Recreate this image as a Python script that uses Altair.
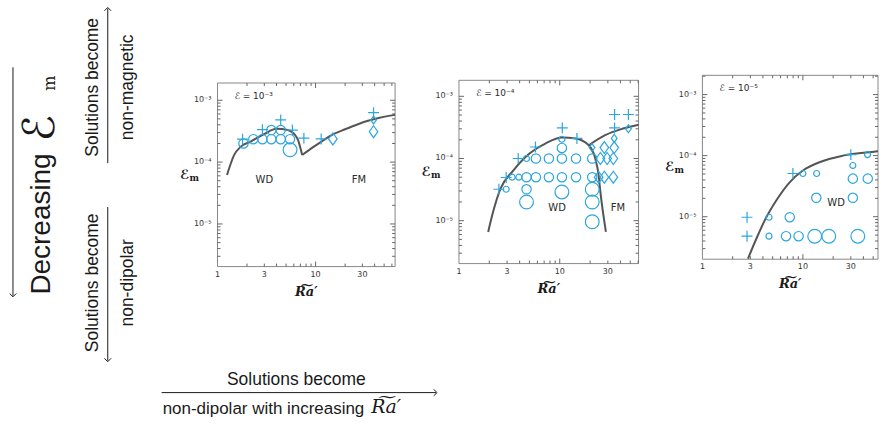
import altair as alt
import pandas as pd

# ---------------- styling ----------------
BLUE = "#2ba6de"
CURVE = "#555555"
FRAME = "#888888"
TICK = "#666666"
INK = "#1a1a1a"
AXIS_INK = "#333333"
SANS = "Liberation Sans"
SMALL = "DejaVu Sans"
SERIF = "DejaVu Serif"

KINDS = ["cS", "cM", "cL", "plus", "dS", "dM"]
PLUS_PATH = "M-1,0L1,0M0,-1L0,1"
DIAM_PATH = "M0,-1L0.72,0L0,1L-0.72,0Z"
SHAPES = ["circle", "circle", "circle", PLUS_PATH, DIAM_PATH, DIAM_PATH]
SIZES = [36, 88, 190, 120, 64, 144]

X_TICK_LABELS = [1, 3, 10, 30]
X_TICK_TEXT = ["1", "3", "10", "30"]
Y_TICK_LABELS = [1e-3, 1e-4, 1e-5]
Y_TICK_TEXT = ["10⁻³", "10⁻⁴", "10⁻⁵"]

# ---------------- panel 1 : E = 1e-3 ----------------
p1_x = [1.84, 2.32, 2.87, 3.54, 4.41, 5.49, 3.54, 4.41, 5.49,
        1.80, 2.87, 4.41, 5.8, 7.6, 11.4, 39,
        15, 39, 39]
p1_y = [2.0e-4, 2.35e-4, 2.35e-4, 2.35e-4, 2.35e-4, 2.35e-4, 3.3e-4, 3.3e-4, 1.58e-4,
        2.35e-4, 3.35e-4, 4.8e-4, 3.3e-4, 2.44e-4, 2.37e-4, 6.3e-4,
        2.37e-4, 4.8e-4, 3.1e-4]
p1_kind = ["cM"] * 8 + ["cL"] + ["plus"] * 7 + ["dM", "dS", "dM"]
p1_curve_x = [1.25, 1.48, 1.73, 2.18, 2.98, 4.0, 5.2, 6.5, 7.3,
              7.3, 9.6, 11.5, 15, 20, 27, 35, 45, 64.7]
p1_curve_y = [6.2e-5, 1.31e-4, 1.78e-4, 2.15e-4, 2.83e-4, 3.45e-4, 3.3e-4, 2.44e-4, 1.3e-4,
              1.3e-4, 1.78e-4, 2.15e-4, 2.8e-4, 3.4e-4, 4.1e-4, 4.7e-4, 5.2e-4, 5.8e-4]
p1_curve_branch = ["WD"] * 9 + ["FM"] * 9
p1_label_x = [3.0, 27.6]
p1_label_y = [5.2e-5, 5.2e-5]
p1_label_t = ["WD", "FM"]
p1_eps = "ℰ = 10⁻³"

# ---------------- panel 2 : E = 1e-4 ----------------
p2_x = [4.68, 5.8, 7.8, 10.5, 14.5, 21,
        3.37, 3.93, 4.68, 5.8, 7.8, 10.5, 14.5, 21,
        2.94, 4.68, 4.68, 10.5, 21, 21, 21, 10.5, 10.5,
        2.49, 2.94, 3.87, 5.74, 10.6, 14.8, 35, 48, 35,
        20.9, 27.7, 34.7, 34.7, 25.3, 29.5, 34, 24.3, 27.7, 34, 48]
p2_y = [1e-4, 1e-4, 1e-4, 1e-4, 1e-4, 1e-4,
        5e-5, 5e-5, 5e-5, 5e-5, 5e-5, 5e-5, 5e-5, 5e-5,
        3.2e-5, 3.2e-5, 2.0e-5, 2.9e-5, 3.2e-5, 2.0e-5, 9.6e-6, 1.48e-4, 2.04e-4,
        3.2e-5, 4.95e-5, 1e-4, 1.53e-4, 3.1e-4, 2.1e-4, 5.1e-4, 5.1e-4, 3.1e-4,
        1.5e-4, 1.5e-4, 1.5e-4, 2.1e-4, 1e-4, 1e-4, 1e-4, 5e-5, 5e-5, 5e-5, 3.0e-4]
p2_kind = (["cS"] + ["cM"] * 5
           + ["cS", "cS"] + ["cM"] * 6
           + ["cS", "cM", "cL", "cL", "cL", "cL", "cL", "cM", "cS"]
           + ["plus"] * 9
           + ["dS", "dM", "dM", "dS", "dM", "dM", "dM", "dM", "dM", "dM", "dS"])
p2_curve_x = [1.95, 2.14, 2.59, 3.37, 4.57, 7.2, 10.6, 14.3, 19.4, 22.5, 24.3, 25.3, 28.7,
              19.4, 28.2, 41.6, 60.5]
p2_curve_y = [6.6e-6, 1.23e-5, 3.3e-5, 6.1e-5, 1.06e-4, 1.74e-4, 2.17e-4, 2.1e-4, 1.63e-4, 1e-4, 5.4e-5, 2.9e-5, 6.6e-6,
              1.63e-4, 2.37e-4, 3.0e-4, 3.5e-4]
p2_curve_branch = ["WD"] * 13 + ["FM"] * 4
p2_label_x = [9.4, 37.8]
p2_label_y = [1.6e-5, 1.6e-5]
p2_label_t = ["WD", "FM"]
p2_eps = "ℰ = 10⁻⁴"

# ---------------- panel 3 : E = 1e-5 ----------------
p3_x = [4.6, 7.4, 4.6, 6.8, 9.06, 13.1, 18.1, 35.2, 13.6, 31.4, 31.4, 44.2, 31.4, 44, 10.0, 13.7,
        2.78, 2.78, 7.95, 30]
p3_y = [9.8e-6, 9.8e-6, 4.8e-6, 4.8e-6, 4.8e-6, 4.8e-6, 4.8e-6, 4.8e-6, 2.04e-5, 2.04e-5, 4.2e-5, 4.2e-5,
        6.9e-5, 1.04e-4, 5.1e-5, 5.1e-5,
        9.8e-6, 4.8e-6, 5.1e-5, 1.04e-4]
p3_kind = ["cS", "cM", "cS", "cM", "cM", "cL", "cL", "cL", "cM", "cM", "cM", "cM", "cS", "cS", "cS", "cS",
           "plus", "plus", "plus", "plus"]
p3_curve_x = [2.84, 3.44, 4.17, 5.43, 7.38, 10.0, 14.6, 25, 53.5, 55.9]
p3_curve_y = [2.05e-6, 4.35e-6, 8.7e-6, 1.84e-5, 3.66e-5, 5.7e-5, 7.8e-5, 1e-4, 1.17e-4, 1.18e-4]
p3_curve_branch = ["WD"] * 10
p3_label_x = [21.4]
p3_label_y = [1.66e-5]
p3_label_t = ["WD"]
p3_eps = "ℰ = 10⁻⁵"

# ---------------- annotation texts ----------------
BIG_TEXT = "Decreasing"
BIG_SYMBOL = "ℰ"
BIG_SUB = "m"
UP_TEXT = ["Solutions become", "non-magnetic"]
DOWN_TEXT = ["Solutions become", "non-dipolar"]
BOTTOM_TEXT = ["Solutions become", "non-dipolar with increasing"]
RA_TEXT = "R͠a′"
Y_TITLE = ["ℰ", "m"]

ONE = pd.DataFrame({"k": [0]})


def decade_ticks(lo, hi):
    major, minor = [], []
    for d in range(-8, 4):
        for k in range(1, 10):
            v = k * 10.0 ** d
            if lo * 1.001 < v < hi * 0.999:
                (major if k == 1 else minor).append(v)
    return major, minor


def panel(mx, my, mk, cx, cy, cb, lx, ly, lt, eps, W, H, xmax, ybot, ytop, ftop):
    xs = alt.Scale(type="log", domain=[1, xmax], nice=False)
    ys = alt.Scale(type="log", domain=[10 ** ybot, 10 ** ytop], nice=False)
    ftop_val = 10 ** (ytop - ftop * (ytop - ybot) / H)
    xmaj, xmin = decade_ticks(1, xmax)
    ymaj, ymin = decade_ticks(10 ** ybot, ftop_val)

    def X(f):
        return alt.X(f, scale=xs, axis=None)

    def Y(f):
        return alt.Y(f, scale=ys, axis=None)

    layers = []
    layers.append(alt.Chart(ONE).mark_rect(filled=False, color=FRAME, strokeWidth=1).encode(
        x=alt.value(0), x2=alt.value(W), y=alt.value(ftop), y2=alt.value(H)))

    def xt(vals, y0, y1):
        return alt.Chart(pd.DataFrame({"v": vals})).mark_rule(color=TICK, strokeWidth=1).encode(
            x=X("v:Q"), y=alt.value(y0), y2=alt.value(y1))

    def yt(vals, x0, x1):
        return alt.Chart(pd.DataFrame({"v": vals})).mark_rule(color=TICK, strokeWidth=1).encode(
            y=Y("v:Q"), x=alt.value(x0), x2=alt.value(x1))

    layers += [xt(xmaj, H, H - 5), xt(xmin, H, H - 3),
               xt(xmaj, ftop, ftop + 5), xt(xmin, ftop, ftop + 3),
               yt(ymaj, 0, 5), yt(ymin, 0, 3),
               yt(ymaj, W, W - 5), yt(ymin, W, W - 3)]

    # tick labels through the scales
    layers.append(alt.Chart(pd.DataFrame({"v": X_TICK_LABELS, "t": X_TICK_TEXT})).mark_text(
        font=SMALL, fontSize=8, color=AXIS_INK, baseline="middle", align="center").encode(
        x=X("v:Q"), y=alt.value(H + 8), text="t:N"))
    layers.append(alt.Chart(pd.DataFrame({"v": Y_TICK_LABELS, "t": Y_TICK_TEXT})).mark_text(
        font=SMALL, fontSize=8, color=AXIS_INK, baseline="middle", align="right").encode(
        y=Y("v:Q"), x=alt.value(-6), text="t:N"))

    cdf = pd.DataFrame({"x": cx, "y": cy, "b": cb})
    layers.append(alt.Chart(cdf).mark_line(color=CURVE, strokeWidth=2, interpolate="monotone").encode(
        x=X("x:Q"), y=Y("y:Q"), detail="b:N"))

    mdf = pd.DataFrame({"x": mx, "y": my, "kind": mk})
    for k, shp, sz in zip(KINDS, SHAPES, SIZES):
        if k not in mk:
            continue
        layers.append(alt.Chart(mdf).transform_filter(alt.datum.kind == k).mark_point(
            shape=shp, size=sz, filled=False, strokeWidth=1.2, color=BLUE, opacity=1).encode(
            x=X("x:Q"), y=Y("y:Q")))

    ldf = pd.DataFrame({"x": lx, "y": ly, "t": lt})
    layers.append(alt.Chart(ldf).mark_text(font=SMALL, fontSize=10, color="#2a2a2a").encode(
        x=X("x:Q"), y=Y("y:Q"), text="t:N"))

    layers.append(alt.Chart(ONE).mark_text(text=eps, align="left", baseline="middle", font=SMALL,
                                           fontSize=9, color="#2a2a2a").encode(
        x=alt.value(17), y=alt.value(ftop + 13)))

    mid = (ftop + H) / 2
    layers.append(alt.Chart(ONE).mark_text(text=Y_TITLE[0], align="right", baseline="middle", font=SMALL,
                                           fontSize=13, fontWeight="bold", color=INK).encode(
        x=alt.value(-28), y=alt.value(mid)))
    layers.append(alt.Chart(ONE).mark_text(text=Y_TITLE[1], align="left", baseline="middle", font=SERIF,
                                           fontSize=9, fontWeight="bold", color=INK).encode(
        x=alt.value(-28), y=alt.value(mid + 3)))
    layers.append(alt.Chart(ONE).mark_text(text=RA_TEXT, align="center", baseline="middle", font=SERIF,
                                           fontSize=13, fontWeight="bold", fontStyle="italic", color=INK).encode(
        x=alt.value(W / 2), y=alt.value(H + 25)))

    return alt.layer(*layers).properties(width=W, height=H)


p1 = panel(p1_x, p1_y, p1_kind, p1_curve_x, p1_curve_y, p1_curve_branch,
           p1_label_x, p1_label_y, p1_label_t, p1_eps, 178, 266.7, 64.7, -5.689, -1.387, 82.7)
p2 = panel(p2_x, p2_y, p2_kind, p2_curve_x, p2_curve_y, p2_curve_branch,
           p2_label_x, p2_label_y, p2_label_t, p2_eps, 180, 263.7, 60.5, -5.69, -1.459, 80)
p3 = panel(p3_x, p3_y, p3_kind, p3_curve_x, p3_curve_y, p3_curve_branch,
           p3_label_x, p3_label_y, p3_label_t, p3_eps, 176, 259.3, 55.9, -5.696, -1.459, 75)


# ---------------- left / bottom annotations ----------------
def txt(s, x, y, size, angle=0, align="center", font=SANS, style="normal"):
    return alt.Chart(ONE).mark_text(text=s, angle=angle, align=align, baseline="middle", fontSize=size,
                                    font=font, fontStyle=style, color=INK).encode(
        x=alt.value(x), y=alt.value(y))


def seg(x1, y1, x2, y2):
    return alt.Chart(ONE).mark_rule(color=INK, strokeWidth=1).encode(
        x=alt.value(x1), y=alt.value(y1), x2=alt.value(x2), y2=alt.value(y2))


def head(x, y, path):
    return alt.Chart(ONE).mark_point(shape=path, filled=False, size=44, color=INK, strokeWidth=1,
                                     opacity=1).encode(x=alt.value(x), y=alt.value(y))


DOWN = "M-1,-1L0,0L1,-1"
UP = "M-1,1L0,0L1,1"
RIGHT = "M-1,-1L0,0L-1,1"

left = alt.layer(
    seg(13, 67, 13, 296), head(13, 297, DOWN),
    txt(BIG_TEXT, 42, 224, 28, angle=270),
    txt(BIG_SYMBOL, 41, 128, 44, angle=270, font=SMALL),
    txt(BIG_SUB, 50, 83, 16, angle=270, font=SERIF),
    seg(108, 163, 108, 8), head(108, 7, UP),
    txt(UP_TEXT[0], 93, 87, 17.5, angle=270),
    txt(UP_TEXT[1], 128, 87, 17.5, angle=270),
    seg(108, 207, 108, 361), head(108, 362, DOWN),
    txt(DOWN_TEXT[0], 93, 283, 17.5, angle=270),
    txt(DOWN_TEXT[1], 128, 283, 17.5, angle=270),
    txt(BOTTOM_TEXT[0], 297, 380, 17.5),
    seg(162, 393, 437, 393), head(438, 393, RIGHT),
    txt(BOTTOM_TEXT[1], 163, 409, 17, align="left"),
    txt(RA_TEXT, 372, 407, 19, align="left", font=SERIF, style="italic"),
).properties(width=154, height=427)

chart = alt.hconcat(left, p1, p2, p3, spacing=64, bounds="flush", padding=0).configure_view(strokeWidth=0)

chart.save("out.html", embed_options={"renderer": "svg", "actions": False})
